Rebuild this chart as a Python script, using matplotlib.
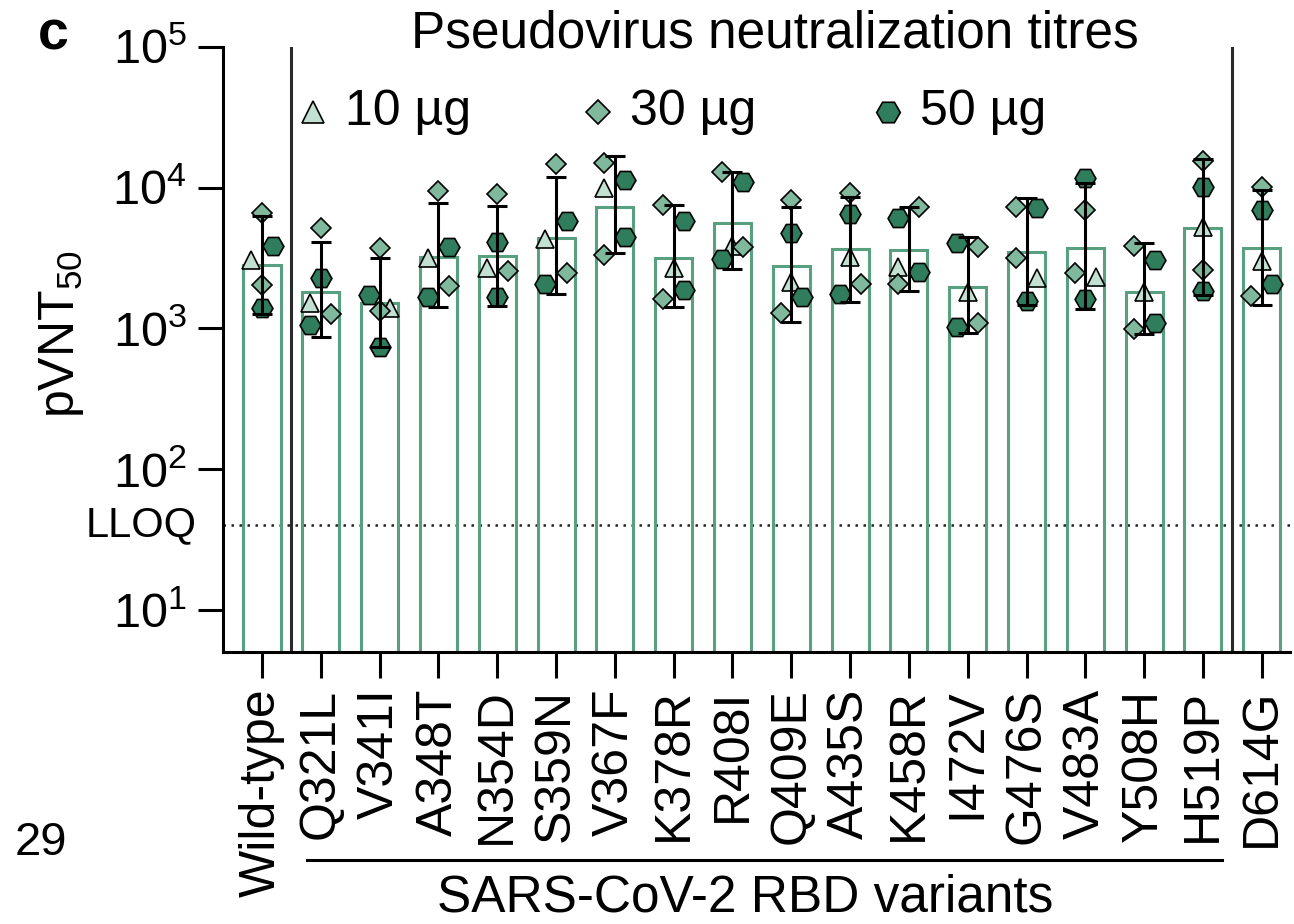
import matplotlib
matplotlib.use("Agg")
import matplotlib.pyplot as plt
import numpy as np
from matplotlib.transforms import blended_transform_factory

plt.rcParams['font.family'] = ['Liberation Sans', 'DejaVu Sans']
plt.rcParams['mathtext.default'] = 'regular'

# ---------------- data ----------------
categories = ['Wild-type', 'Q321L', 'V341I', 'A348T', 'N354D', 'S359N', 'V367F',
              'K378R', 'R408I', 'Q409E', 'A435S', 'K458R', 'I472V', 'G476S',
              'V483A', 'Y508H', 'H519P', 'D614G']

gmt = [2815, 1821, 1521, 3193, 3263, 4402, 7310, 3141, 5627, 2770, 3638, 3598,
       1976, 3502, 3698, 1821, 5129, 3698]
ci_low = [1260, 872, 737, 1425, 1432, 1743, 3408, 1425, 2623, 1115, 1546, 1850,
          931, 1463, 1364, 911, 1730, 1464]
ci_high = [6275, 4125, 3141, 7720, 7430, 11940, 16830, 7512, 12960, 7310, 8570,
           7310, 4476, 8378, 10710, 4014, 15850, 9600]

# 10 ug (one serum per variant)
tri_10ug = [3060, 1504, 1386, 3141, 2667, 4283, 9865, 2667, 3842, 2145, 3228,
            2741, 1821, 2264, 2327, 1821, 5213, 3023]
tri_side = [-1, -1, 1, -1, -1, -1, -1, 0, 0, 0, 0, -1, 0, 1, 1, 0, 0, 0]

# 30 ug (two sera per variant)
dia_30ug = [[6550, 2030], [5130, 1264], [3698, 1335], [9445, 2009], [8993, 2567],
            [14690, 2485], [15010, 3317], [7512, 1606], [12960, 3759], [8153, 1278],
            [9092, 2064], [7310, 2064], [3800, 1097], [7310, 3141], [6921, 2458],
            [3842, 983], [15510, 2595], [10030, 1696]]
dia_side = [[0, 0], [0, 1], [0, 0], [0, 1], [0, 1], [0, 1], [-1, -1], [-1, -1], [-1, 1],
            [0, -1], [0, 1], [1, -1], [1, 1], [-1, -1], [0, -1], [-1, -1], [0, 0], [0, -1]]

# 50 ug (two sera per variant)
hex_50ug = [[3840, 1386], [2289, 1056], [1724, 741], [3759, 1677], [4125, 1677],
            [5782, 2064], [11310, 4426], [5782, 1871], [11000, 3090], [4778, 1677],
            [6482, 1743], [6040, 2526], [4057, 1027], [7114, 1571], [11620, 1606],
            [3056, 1085], [10140, 1850], [6921, 2064]]
hex_side = [[1, 0], [0, -1], [-1, 0], [1, -1], [0, 0], [1, -1], [1, 1], [1, 1], [1, -1],
            [0, 1], [0, -1], [-1, 1], [-1, -1], [1, 0], [0, 0], [1, 1], [0, 0], [0, 1]]

lloq = 40
dose_labels = ['10 µg', '30 µg', '50 µg']

# ---------------- style ----------------
W, H = 1294, 924
bar_edge = '#58a07f'
c_tri = '#c2e1d2'
c_dia = '#80b89d'
c_hex = '#2f7d5c'
lw = 2.2
jit = 0.18

fig = plt.figure(figsize=(W / 100, H / 100), dpi=100)
ax = fig.add_axes([223 / W, 1 - 652.4 / H, (1290 - 223) / W, (652.4 - 46.8) / H])

x = np.arange(len(categories))
gmt_a = np.array(gmt, float)
err = [gmt_a - np.array(ci_low), np.array(ci_high) - gmt_a]

ax.set_yscale('log')
ax.set_ylim(5, 1e5)
ax.set_xlim(-0.663, 17.48)

ax.bar(x, gmt_a - 1, bottom=1, width=0.63, facecolor='none', edgecolor=bar_edge,
       linewidth=lw, zorder=2)

ax.axhline(lloq, color='#222222', linestyle=(0, (1, 2.2)), linewidth=1.8, zorder=1)
for xs in (0.5, 16.5):
    ax.axvline(xs, color='#2a2a2a', linewidth=lw, zorder=1)

mk = dict(markeredgecolor='black', markeredgewidth=1.2, linestyle='none', zorder=3)
ax.plot(x + jit * np.array(tri_side), tri_10ug, marker='^', markersize=13,
        markerfacecolor=c_tri, **mk)
d = np.array(dia_30ug, float); ds = np.array(dia_side, float)
for k in range(2):
    ax.plot(x + jit * ds[:, k], d[:, k], marker='D', markersize=10.5,
            markerfacecolor=c_dia, **mk)
h = np.array(hex_50ug, float); hs = np.array(hex_side, float)
for k in range(2):
    ax.plot(x + jit * hs[:, k], h[:, k], marker='H', markersize=15,
            markerfacecolor=c_hex, **mk)

ax.errorbar(x, gmt_a, yerr=err, fmt='none', ecolor='black', elinewidth=lw,
            capsize=7.5, capthick=lw, zorder=4)

# axes styling
for s in ('top', 'right'):
    ax.spines[s].set_visible(False)
for s in ('left', 'bottom'):
    ax.spines[s].set_linewidth(lw)
ax.set_yticks([1e1, 1e2, 1e3, 1e4, 1e5])
ax.yaxis.set_minor_locator(matplotlib.ticker.NullLocator())
ax.tick_params(axis='y', length=18, width=lw, labelsize=35, pad=8)
ax.set_xticks(x)
ax.set_xticklabels(categories, rotation=90, fontsize=36)
ax.tick_params(axis='x', length=19, width=lw, pad=7)

# LLOQ label
ax.text(-0.0245, lloq, 'LLOQ', transform=blended_transform_factory(ax.transAxes, ax.transData),
        ha='right', va='center', fontsize=30)

# title
fig.text(775 / W, 1 - 47 / H, 'Pseudovirus neutralization titres', ha='center',
         va='baseline', fontsize=37)

# legend (manual)
for (mx, tx), m, c, ms, lab in zip([(313, 345), (598, 630), (888, 920)],
                                   ['^', 'D', 'H'], [c_tri, c_dia, c_hex], [16, 12.5, 17],
                                   dose_labels):
    ax.plot([mx / W], [1 - 112 / H], marker=m, markersize=ms, markerfacecolor=c,
            markeredgecolor='black', markeredgewidth=1.2, transform=fig.transFigure,
            clip_on=False, linestyle='none')
    fig.text(tx / W, 1 - 125 / H, lab, ha='left', va='baseline', fontsize=36)

# y label
fig.text(62 / W, 1 - 334 / H, 'pVNT$_{50}$', rotation=90, ha='center', va='center',
         fontsize=36)

# panel letter and line number
fig.text(38 / W, 1 - 50 / H, 'c', fontsize=40, fontweight='bold', ha='left', va='baseline')
fig.text(15 / W, 1 - 855 / H, '29', fontsize=34, ha='left', va='baseline')

# group underline and label
bt = blended_transform_factory(ax.transData, fig.transFigure)
ax.plot([0.765, 16.33], [1 - 860 / H, 1 - 860 / H], color='black', linewidth=lw,
        transform=bt, clip_on=False)
fig.text(745 / W, 1 - 911 / H, 'SARS-CoV-2 RBD variants', ha='center', va='baseline',
         fontsize=37)

fig.savefig('out.png', dpi=100)
